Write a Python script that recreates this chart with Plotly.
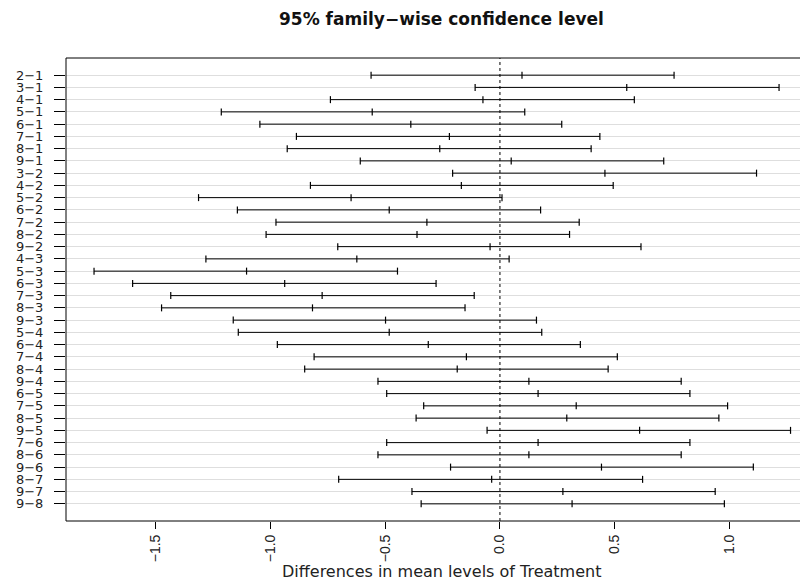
import plotly.graph_objects as go

comparisons = ["2−1", "3−1", "4−1", "5−1", "6−1", "7−1", "8−1", "9−1",
               "3−2", "4−2", "5−2", "6−2", "7−2", "8−2", "9−2",
               "4−3", "5−3", "6−3", "7−3", "8−3", "9−3",
               "5−4", "6−4", "7−4", "8−4", "9−4",
               "6−5", "7−5", "8−5", "9−5",
               "7−6", "8−6", "9−6",
               "8−7", "9−7",
               "9−8"]
diff = [0.096, 0.552, -0.074, -0.556, -0.388, -0.220, -0.262, 0.049,
        0.457, -0.168, -0.648, -0.482, -0.318, -0.361, -0.043,
        -0.623, -1.103, -0.937, -0.774, -0.816, -0.498,
        -0.482, -0.312, -0.146, -0.186, 0.126,
        0.166, 0.332, 0.291, 0.608,
        0.166, 0.126, 0.442,
        -0.036, 0.274,
        0.314]
lwr = [-0.561, -0.108, -0.738, -1.213, -1.045, -0.886, -0.926, -0.608,
       -0.206, -0.825, -1.312, -1.143, -0.975, -1.018, -0.706,
       -1.280, -1.767, -1.599, -1.433, -1.473, -1.161,
       -1.139, -0.969, -0.809, -0.850, -0.531,
       -0.493, -0.332, -0.365, -0.056,
       -0.493, -0.531, -0.215,
       -0.702, -0.383,
       -0.343]
upr = [0.758, 1.215, 0.585, 0.108, 0.269, 0.435, 0.397, 0.713,
       1.117, 0.493, 0.009, 0.177, 0.345, 0.303, 0.614,
       0.040, -0.446, -0.278, -0.112, -0.152, 0.159,
       0.182, 0.350, 0.511, 0.471, 0.789,
       0.827, 0.991, 0.953, 1.265,
       0.827, 0.789, 1.103,
       0.621, 0.937,
       0.977]
x_ticks = [-1.5, -1.0, -0.5, 0.0, 0.5, 1.0]
x_tick_labels = ["−1.5", "−1.0", "−0.5", "0.0", "0.5", "1.0"]

title_text = "95% family−wise confidence level"
xlabel_text = "Differences in mean levels of Treatment"

FONT = "DejaVu Sans"
TXT = "#222222"

# page has an 8px body margin, so the figure is drawn 8px right/down
OFF = 8
W, H = 808 - OFF, 580 - OFF
L, T, B = 66 - OFF, 58 - OFF, 59
plot_w = W - L
plot_h = H - T - B

seg_x, seg_y = [], []
for c, lo, hi in zip(comparisons, lwr, upr):
    seg_x += [lo, hi, None]
    seg_y += [c, c, None]

fig = go.Figure()
fig.add_trace(go.Scatter(x=seg_x, y=seg_y, mode="lines",
                         line=dict(color="black", width=1),
                         hoverinfo="skip", showlegend=False))
for arr in (lwr, diff, upr):
    fig.add_trace(go.Scatter(x=arr, y=comparisons, mode="markers",
                             marker=dict(symbol="line-ns", size=5,
                                         line=dict(color="black", width=1.2)),
                             showlegend=False))

fig.add_vline(x=0, line=dict(color="black", width=1, dash="dot"))
# box (left, top, bottom; right side runs off the page)
fig.add_shape(type="rect", xref="paper", yref="paper", x0=0, x1=1.03, y0=0, y1=1,
              line=dict(color="black", width=1), fillcolor="rgba(0,0,0,0)")

fig.update_layout(
    width=W, height=H,
    margin=dict(l=L, r=0, t=T, b=B),
    plot_bgcolor="white", paper_bgcolor="white",
    font=dict(family=FONT, size=13, color=TXT),
    showlegend=False,
)
fig.update_xaxes(range=[-1.889, 1.341], tickvals=x_ticks, ticktext=x_tick_labels,
                 tickangle=-90, ticks="outside", ticklen=7, tickcolor="black",
                 showgrid=False, zeroline=False, showline=False,
                 tickfont=dict(family="Liberation Sans", size=14, color=TXT))
fig.update_yaxes(type="category", categoryorder="array", categoryarray=comparisons,
                 tickmode="linear", tick0=0, dtick=1,
                 range=[len(comparisons) - 1 + 1.4, -1.4],
                 ticks="outside", ticklen=11, tickcolor="black",
                 ticklabelstandoff=8,
                 showgrid=True, gridcolor="#dedede", gridwidth=1,
                 zeroline=False, showline=False,
                 tickfont=dict(family=FONT, size=13, color=TXT))
# title centred over the plotting region
fig.add_annotation(text="<b>" + title_text + "</b>", xref="paper", yref="paper",
                   x=(441 - 66) / plot_w, y=1 + (58 - 19) / plot_h,
                   xanchor="center", yanchor="middle", showarrow=False,
                   font=dict(family=FONT, size=17, color="#111111"))
fig.add_annotation(text=xlabel_text, xref="paper", yref="paper",
                   x=(442 - 66) / plot_w, y=-(571 - 521) / plot_h,
                   xanchor="center", yanchor="middle", showarrow=False,
                   font=dict(family=FONT, size=16, color=TXT))

fig.write_html("out.html")
